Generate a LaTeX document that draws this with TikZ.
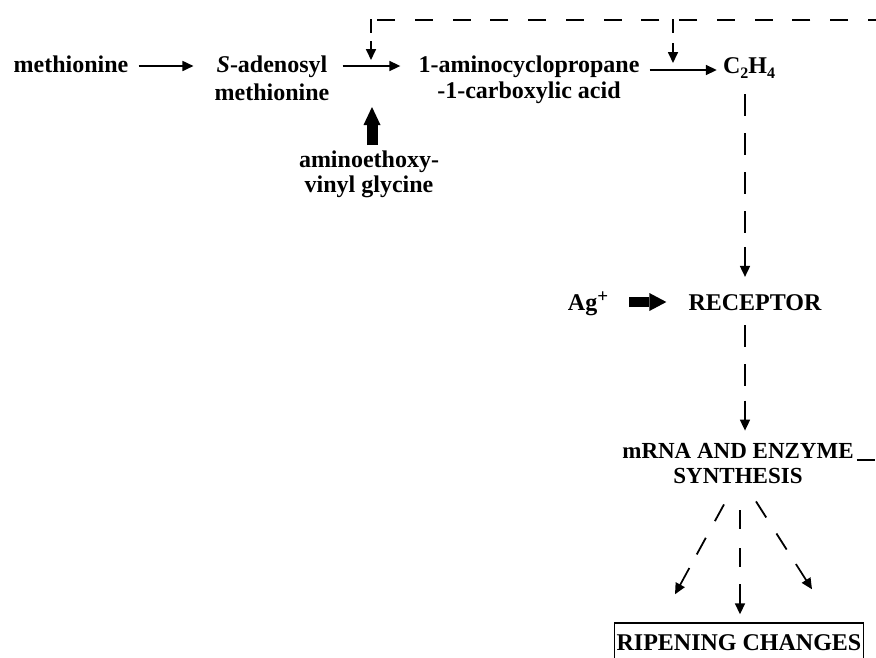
\documentclass[tikz,border=0pt]{standalone}
\usepackage{fontspec}
\setmainfont{Liberation Serif}
\usetikzlibrary{arrows.meta,calc}
\newcommand\dconn[3]{%
  \draw[#1,shorten >=30pt] (#2) -- (#3);
  \draw[arr] ($(#3)!30pt!(#2)$) -- (#3);}
\newcommand\subdig[1]{\raisebox{-5pt}{\fontsize{16}{16}\selectfont #1}}
\begin{document}
\begin{tikzpicture}[x=1pt,y=-1pt,
  lbl/.style={font=\fontsize{24}{26}\selectfont\bfseries, inner sep=3pt, align=center, anchor=base},
  arr/.style={line width=1.7pt,-{Triangle[length=11pt,width=10pt]}},
  dl/.style={line width=1.8pt, dash pattern=on 22pt off 17pt},
  dd/.style={line width=1.8pt, dash pattern=on 19pt off 19pt},
  dt/.style={line width=1.8pt, dash pattern=on 18pt off 19.75pt},
  tick/.style={line width=1.8pt, line cap=rect},
  blk/.style={line width=11pt,-{Triangle[length=18pt,width=17pt,line width=0pt]}},
  blkh/.style={line width=10pt,-{Triangle[length=17pt,width=18pt,line width=0pt]}},
  ripebox/.style={font=\fontsize{24}{26}\selectfont\bfseries, draw, line width=1.4pt,
    inner xsep=2pt, inner ysep=3pt, text height=24pt, text depth=30pt, anchor=base}]
\useasboundingbox (0,0) rectangle (876,657);
\clip (0,0) rectangle (876,657);
\fill[white] (0,0) rectangle (876,657);

% nodes (anchor=base is the baseline of the last line)
\node[lbl] (meth) at (71,72) {methionine};
\node[lbl, font=\fontsize{24}{28}\selectfont\bfseries] (sam) at (272,100) {\textit{S}-adenosyl\\methionine};
\node[lbl] (acc) at (529,98) {1-aminocyclopropane\\-1-carboxylic acid};
\node[lbl] (c2h4) at (749,73) {C\subdig{2}H\subdig{4}};
\node[lbl, font=\fontsize{24}{25}\selectfont\bfseries] (aoa) at (369,192) {aminoethoxy-\\vinyl glycine};
\node[lbl] (ag) at (588,310) {Ag\raisebox{8pt}{\fontsize{19}{19}\selectfont +}};
\node[lbl] (rec) at (755,310) {RECEPTOR};
\node[lbl, font=\fontsize{23}{25}\selectfont\bfseries] (mrna) at (738,483) {mRNA AND ENZYME\\SYNTHESIS};
\node[ripebox] (ripe) at (739,650) {RIPENING CHANGES};

% coordinates
\coordinate (row1) at (0,66);
\coordinate (row2) at (0,70);
\coordinate (j1) at (371,66);
\coordinate (j2) at (673,70);
\coordinate (k1) at (371,20);
\coordinate (k2) at (673,20);
\coordinate (fbT) at (896.75,20);
\coordinate (fbR) at (896.75,460);
\coordinate (vx) at (745,0);

% main pathway
\draw[arr] ($(meth.east |- row1)+(7,0)$) -- ($(sam.west |- row1)+(-18,0)$);
\draw[arr] ($(sam.east |- row1)+(10,0)$) -- ($(acc.west |- row1)+(-15,0)$);
\draw[arr] ($(acc.east |- row2)+(7,0)$) -- ($(c2h4.west |- row2)+(-3,0)$);

% feedback
\draw[dt] (mrna.east |- fbR) -- (fbR) -- (fbT) -- (k1);
\draw[tick] (k1) -- ($(k1)+(0,12)$);
\draw[tick] (k2) -- ($(k2)+(0,12)$);
\draw[arr] ($(k1)+(0,21)$) -- ($(j1)+(0,-6)$);
\draw[arr] ($(k2)+(0,23)$) -- ($(j2)+(0,-7)$);

% inhibitors
\draw[blk] ($(j1 |- aoa.north)+(1,-2)$) -- ($(j1)+(1,41)$);
\draw[blkh] ($(ag.base east)+(18,-8)$) -- ($(rec.base west)+(-19,-8)$);

% vertical chain
\coordinate (v1s) at ($(vx |- c2h4.south)+(0,13)$);
\coordinate (v1e) at ($(vx |- rec.north)+(0,-14)$);
\dconn{dl}{v1s}{v1e}
\coordinate (v2s) at ($(vx |- rec.south)+(0,12)$);
\coordinate (v2e) at ($(vx |- mrna.north)+(0,-9)$);
\dconn{dl}{v2s}{v2e}

% fan to ripening
\coordinate (d0s) at ($(mrna.south)+(2,24)$);
\coordinate (d0e) at ($(ripe.north)+(1,-8)$);
\coordinate (dLs) at ($(mrna.south)+(-14,18)$);
\coordinate (dLe) at ($(ripe.north)+(-64,-28)$);
\coordinate (dRs) at ($(mrna.south)+(18,15)$);
\coordinate (dRe) at ($(ripe.north)+(73,-33)$);
\dconn{dd}{dLs}{dLe}
\dconn{dd}{d0s}{d0e}
\dconn{dd}{dRs}{dRe}
\end{tikzpicture}
\end{document}
